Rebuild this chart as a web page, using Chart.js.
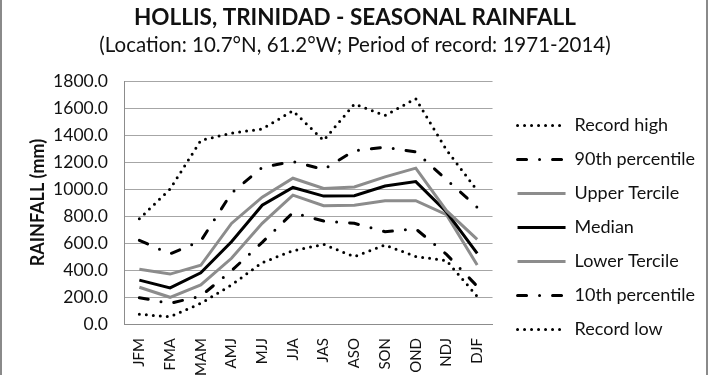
<!DOCTYPE html>
<html>
<head>
<meta charset="utf-8">
<script src="https://cdn.jsdelivr.net/npm/chart.js@4"></script>
<style>
  html, body { margin: 0; padding: 0; background: #fff; }
  #wrap { position: relative; width: 710px; height: 375px; overflow: hidden; }
  #wrap .edge { position: absolute; top: 0; bottom: 0; width: 2px; background: #8a8a8a; }
</style>
</head>
<body>
<div id="wrap">
  <canvas id="rain-chart"></canvas>
  <div class="edge" style="left:0"></div>
  <div class="edge" style="left:706px"></div>
</div>
<script>
// seasons (3-month windows)
const seasons = ['JFM', 'FMA', 'MAM', 'AMJ', 'MJJ', 'JJA', 'JAS', 'ASO', 'SON', 'OND', 'NDJ', 'DJF'];

// rainfall, mm
const recordHigh   = [780, 1000, 1360, 1415, 1445, 1580, 1360, 1630, 1545, 1670, 1290, 990];
const pct90        = [620, 520, 615, 970, 1160, 1205, 1145, 1285, 1310, 1275, 1070, 865];
const upperTercile = [405, 370, 435, 745, 940, 1080, 1005, 1015, 1090, 1155, 840, 627];
const median       = [325, 268, 380, 610, 880, 1012, 948, 950, 1022, 1055, 830, 523];
const lowerTercile = [272, 198, 289, 487, 746, 955, 876, 880, 914, 914, 810, 437];
const pct10        = [195, 153, 207, 395, 605, 825, 763, 746, 684, 705, 516, 280];
const recordLow    = [72, 54, 153, 289, 455, 543, 590, 499, 585, 500, 470, 205];

const yTicks = [0, 200, 400, 600, 800, 1000, 1200, 1400, 1600, 1800];

const FONT = 'Lato, "Open Sans", sans-serif';
const DOTTED = [0, 7];
const DASH_DOT = [9, 13, 0, 13];
const SIDE_PAD = 14;

function series(label, data, color, dash) {
  return {
    label, data,
    borderColor: color,
    backgroundColor: color,
    borderWidth: 3,
    borderDash: dash,
    borderCapStyle: dash.length ? 'round' : 'butt',
    pointRadius: 0,
    tension: 0,
    fill: false,
  };
}

const datasets = [
  series('Record high', recordHigh, '#000', DOTTED),
  series('90th percentile', pct90, '#000', DASH_DOT),
  series('Upper Tercile', upperTercile, '#8c8c8c', []),
  series('Median', median, '#000', []),
  series('Lower Tercile', lowerTercile, '#8c8c8c', []),
  series('10th percentile', pct10, '#000', DASH_DOT),
  series('Record low', recordLow, '#000', DOTTED),
];

// legend sits lower and a bit further right than Chart.js puts it
const legendNudge = {
  id: 'legendNudge',
  afterLayout(chart) {
    const l = chart.legend;
    if (!l) return;
    l.top += 40; l.bottom += 40;
    l.left += 9; l.right += 9;
  },
};

function legendLabels(chart) {
  return chart.data.datasets.map((ds, i) => ({
    text: ds.label,
    fillStyle: ds.borderColor,
    strokeStyle: ds.borderColor,
    fontColor: '#111',
    lineWidth: 3,
    lineDash: ds.borderDash,
    lineCap: ds.borderCapStyle,
    pointStyle: 'line',
    hidden: false,
    datasetIndex: i,
  }));
}

document.addEventListener('DOMContentLoaded', () => {
  const ctx = document.getElementById('rain-chart').getContext('2d');
  new Chart(ctx, {
    type: 'line',
    data: { labels: seasons, datasets },
    plugins: [legendNudge],
    options: {
      responsive: true,
      maintainAspectRatio: false,
      animation: false,
      layout: { padding: { left: SIDE_PAD, right: SIDE_PAD, top: 0, bottom: 0 } },
      plugins: {
        title: {
          display: true,
          text: 'HOLLIS, TRINIDAD - SEASONAL RAINFALL',
          color: '#111',
          font: { family: FONT, size: 22.5, weight: 'bold' },
          padding: { top: 4.5, bottom: 2 },
        },
        subtitle: {
          display: true,
          text: '(Location: 10.7°N, 61.2°W; Period of record: 1971-2014)',
          color: '#111',
          font: { family: FONT, size: 20.5 },
          padding: { top: 0, bottom: 23 },
        },
        legend: {
          position: 'right',
          align: 'center',
          maxWidth: 260,
          labels: {
            usePointStyle: true,
            pointStyleWidth: 48,
            padding: 16,
            color: '#111',
            font: { family: FONT, size: 18 },
            generateLabels: legendLabels,
          },
        },
        tooltip: { enabled: false },
      },
      scales: {
        x: {
          offset: true,
          grid: { display: false },
          border: { display: true, color: '#8c8c8c', width: 1 },
          ticks: {
            autoSkip: false,
            minRotation: 90,
            maxRotation: 90,
            color: '#111',
            padding: 6,
            font: { family: FONT, size: 15 },
          },
          afterFit: scale => { scale.height = 51; },
        },
        y: {
          min: 0,
          max: 1800,
          afterBuildTicks: scale => { scale.ticks = yTicks.map(v => ({ value: v })); },
          grid: { color: '#a6a6a6', drawTicks: false },
          border: { display: true, color: '#8c8c8c', width: 1 },
          ticks: {
            color: '#111',
            padding: 16,
            font: { family: FONT, size: 17.5 },
            callback: v => v.toFixed(1),
          },
          title: {
            display: true,
            text: 'RAINFALL (mm)',
            color: '#111',
            font: { family: FONT, size: 18, weight: 'bold' },
            padding: { top: 27 - SIDE_PAD, bottom: 0 },
          },
          afterFit: scale => { scale.width = 124 - SIDE_PAD; },
        },
      },
    },
  });
});
</script>
</body>
</html>
